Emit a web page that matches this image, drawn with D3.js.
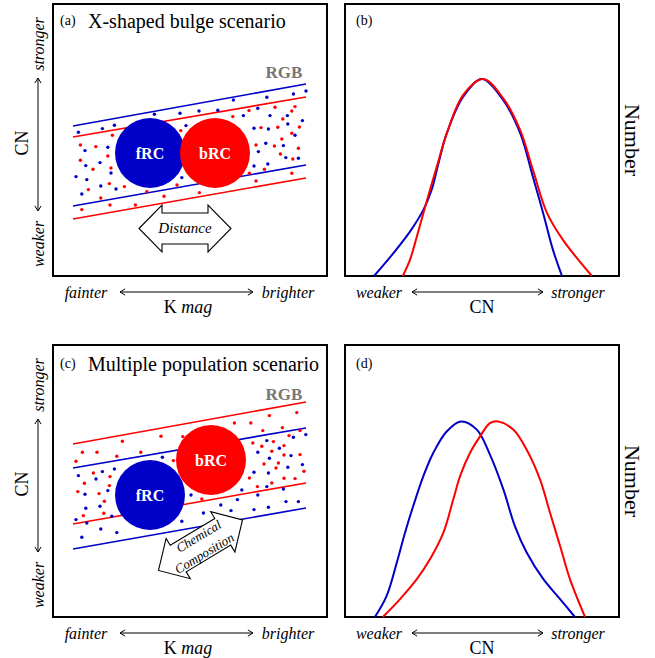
<!DOCTYPE html>
<html>
<head>
<meta charset="utf-8">
<script src="https://cdn.jsdelivr.net/npm/d3@7"></script>
<style>
  body { margin: 0; background: #fff; }
  text { font-family: "Liberation Serif", "Times New Roman", serif; }
</style>
</head>
<body>
<div id="chart"></div>
<script>
(function (d3) {
    'use strict';

    // Panel titles and axis words.
    var panelTags = ['(a)', '(b)', '(c)', '(d)'];
    var scenarioTitles = ['X-shaped bulge scenario', 'Multiple population scenario'];
    var cnWords = ['weaker', 'stronger'];
    var magWords = ['fainter', 'brighter'];

    // RGB band edges, schematic units [K mag, CN], left to right.
    var rgbLinesA = [
        {color: 'blue', pts: [[10, 75], [126.5, 96]]},
        {color: 'red', pts: [[10, 69.5], [126.5, 89.5]]},
        {color: 'blue', pts: [[10, 35], [126.5, 55.5]]},
        {color: 'red', pts: [[10, 28.5], [126.5, 49]]}
    ];
    var rgbLinesC = [
        {color: 'red', pts: [[10, 86.5], [126.5, 107.5]]},
        {color: 'blue', pts: [[10, 74.5], [126.5, 94.5]]},
        {color: 'red', pts: [[10, 46.5], [126.5, 67]]},
        {color: 'blue', pts: [[10, 34], [126.5, 54.5]]}
    ];

    // Red clump blobs [K mag, CN].
    var clumpsA = [
        {name: 'fRC', color: 'blue', k: 48.5, cn: 61.5},
        {name: 'bRC', color: 'red', k: 81, cn: 61.5}
    ];
    var clumpsC = [
        {name: 'fRC', color: 'blue', k: 48.5, cn: 61},
        {name: 'bRC', color: 'red', k: 79, cn: 78.5}
    ];

    // RGB stars [K mag, CN].
    var blueStarsA = [
        [50.7, 80.9], [63.5, 81.4], [12.7, 71.9], [24.7, 73.7], [30.7, 75.4], [16, 62.7],
        [27.4, 64.4], [23.5, 56.7], [16.4, 55.2], [29, 51.5], [11.5, 49.7], [16.9, 48.2],
        [23.9, 45], [31.5, 43.5], [14.4, 41], [64.4, 49.2], [66.5, 75.2], [90.2, 88],
        [106.9, 89.4], [120.2, 91], [126.5, 92.5], [73, 82.5], [82.4, 82.9], [95.2, 80.2],
        [102.4, 83.9], [108.5, 80.2], [117.2, 80.2], [124.7, 77.7], [100.5, 73.9], [107.7, 73.5],
        [117.4, 76], [121, 70.4], [106.4, 66.4], [115.2, 65.2], [102.7, 62.2], [116.4, 59.2],
        [122.7, 58.9], [100.5, 55], [107.4, 56]
    ];
    var redStarsA = [
        [13.7, 65.5], [21.4, 64.7], [29.7, 70.4], [27.4, 60], [13.7, 57.9], [20, 53.4],
        [29, 54], [28.2, 46.2], [17.7, 43.2], [35.7, 44.7], [23.9, 39], [46.9, 42.2],
        [55.5, 39.9], [62, 45.5], [14.4, 33.2], [28.5, 35.5], [41.2, 35.5], [63.9, 72.7],
        [98, 82.7], [111, 84.4], [121, 84.7], [89.9, 79.7], [114.9, 78.5], [119.4, 82.5],
        [104, 74.2], [112.4, 74.4], [123.2, 74.5], [119.4, 71.4], [114.4, 68.5], [101.5, 65.5],
        [110.7, 65], [122.7, 63.9], [113.7, 61], [119.9, 58.5], [105.7, 53.4], [98.2, 51.4],
        [119.4, 51.4], [101.5, 47.5], [73.2, 41.7]
    ];
    var blueStarsC = [
        [54.7, 79.9], [12.7, 70.7], [24.7, 72.7], [30.7, 74], [21.5, 69], [27.4, 63.2],
        [16, 61.4], [23.5, 55.4], [16.4, 54.4], [29.4, 50.4], [11.5, 48.7], [16.9, 47],
        [23.9, 44], [31.9, 42.2], [14.4, 39.9], [64.4, 47.9], [126.4, 91.2], [120.2, 89.9],
        [106.9, 88.2], [113.2, 84.4], [102.4, 82.4], [108.2, 79.4], [119, 80.7], [124.7, 76.2],
        [117.4, 74.9], [100.5, 72.4], [107.7, 72], [115.2, 64], [106.9, 65.2], [94.4, 63.5],
        [102.4, 61], [69, 61], [92.2, 58.7], [83.9, 56], [116.5, 57.7], [122.7, 57.7],
        [107.7, 54.9], [100.5, 53.7], [89, 53.2], [75.2, 52]
    ];
    var redStarsC = [
        [34.7, 87.9], [54, 90.4], [14.7, 82.4], [22, 82.4], [31.9, 80.4], [43.9, 82.4],
        [11.5, 77.9], [60.2, 78.2], [20.2, 72], [28.5, 70.2], [15.7, 66.9], [28.2, 65.7],
        [12.4, 62.7], [23, 61.7], [25.7, 57.9], [25.4, 51.9], [15.2, 50.7], [108.2, 100.7],
        [121.9, 102.2], [90.7, 97], [98.9, 97], [104.9, 93.2], [114.7, 94.7], [118, 90.7],
        [123.5, 93.2], [99.9, 87], [104.4, 85.4], [110.2, 87.7], [115.5, 85.7], [109.4, 82.9],
        [115.5, 81], [123.5, 81.2], [112.7, 77], [105.5, 76.5], [125.5, 72.9], [111.5, 74.5],
        [115.5, 69.4], [121, 69.2], [98.2, 69.5], [109.4, 67], [102.2, 65.2], [64.9, 90.2],
        [74.4, 59]
    ];

    // CN distributions [CN, Number].
    var blueCurveB = [
        [10.6, 0], [17.6, 8.3], [23.7, 16.3], [28.6, 24.3], [31.6, 31.6], [34.1, 41.4],
        [37.2, 52.6], [43.1, 65.8], [50, 72.4], [57.7, 64.7], [63.9, 52.6], [68.6, 36.4],
        [72.3, 23.2], [75.9, 9.6], [79.2, 0]
    ];
    var redCurveB = [
        [21.1, 0], [23.7, 5.9], [26.2, 14.4], [28.6, 23.1], [31, 31.6], [33.5, 40.2],
        [37.2, 52.6], [43.1, 66.5], [50.4, 72.4], [57.7, 65.4], [63.9, 53.7], [68.6, 39],
        [73.7, 23.2], [79.6, 13.2], [90.1, 0]
    ];
    var blueCurveD = [
        [10.9, 0], [15.2, 7.8], [18.9, 20], [21.9, 31], [24.9, 40.8], [28.6, 51.8],
        [32.2, 60.3], [37.1, 68.2], [42.3, 71.9], [48.1, 68.9], [52.9, 59.7], [57.8, 46.9],
        [62, 33.4], [66.3, 23.7], [72.4, 13.9], [78.5, 6.6], [83.9, 0]
    ];
    var redCurveD = [
        [13.8, 0], [20.1, 6.6], [26.2, 13.9], [31, 21.2], [35.9, 31], [39.5, 43.2],
        [42, 51.8], [45.6, 60.3], [49.3, 66.4], [52.9, 71.3], [55.9, 71.9], [61.4, 68.9],
        [66.3, 61.5], [71.2, 50.5], [74.8, 38.4], [78.5, 26.1], [82.1, 13.9], [87.6, 0]
    ];

    // Colours.
    var colors = {blue: '#0000c8', red: '#ff0000'};

    // Panel frames.
    var pw = 274;
    var ph = 272;
    var panelPos = [
        {x: 53, y: 4}, {x: 345, y: 4},
        {x: 53, y: 345}, {x: 345, y: 345}
    ];

    // Scales: schematic CMD panels and histogram panels.
    var xk = d3.scaleLinear().domain([0, 137]).range([0, pw]);
    var ycn = d3.scaleLinear().domain([0, 136]).range([ph, 0]);
    var xh = d3.scaleLinear().domain([0, 100]).range([0, pw]);
    var yh = d3.scaleLinear().domain([0, 100]).range([ph, 0]);

    var svg = d3.select('#chart').append('svg')
        .attr('width', 655)
        .attr('height', 658);

    var panels = panelPos.map(function (p, i) {
        var g = svg.append('g').attr('transform', 'translate(' + p.x + ',' + p.y + ')');
        g.append('rect')
            .attr('width', pw).attr('height', ph)
            .attr('fill', 'none').attr('stroke', '#000').attr('stroke-width', 2);
        g.append('text')
            .attr('x', i % 2 === 0 ? 7 : 11)
            .attr('y', i < 2 ? 21 : 23)
            .attr('font-size', 14)
            .text(panelTags[i]);
        return g;
    });

    // Double arrow with open heads.
    function doubleArrow(g, x1, y1, x2, y2) {
        var ang = Math.atan2(y2 - y1, x2 - x1);
        var h = 6;
        var a = 0.55;
        g.append('line')
            .attr('x1', x1).attr('y1', y1).attr('x2', x2).attr('y2', y2)
            .attr('stroke', '#000').attr('stroke-width', 1);
        [[x1, y1, ang + Math.PI], [x2, y2, ang]].forEach(function (e) {
            var p = d3.path();
            p.moveTo(e[0] - h * Math.cos(e[2] - a), e[1] - h * Math.sin(e[2] - a));
            p.lineTo(e[0], e[1]);
            p.lineTo(e[0] - h * Math.cos(e[2] + a), e[1] - h * Math.sin(e[2] + a));
            g.append('path').attr('d', p.toString())
                .attr('fill', 'none').attr('stroke', '#000').attr('stroke-width', 1);
        });
    }

    // Fat outline arrow (Distance / Chemical Composition).
    function fatArrow(g, cx, cy, angle, half) {
        var hl = 23, hw = 23.5, sw = 15.5;
        var pts = [
            [-half, 0], [-half + hl, -hw], [-half + hl, -sw], [half - hl, -sw], [half - hl, -hw],
            [half, 0], [half - hl, hw], [half - hl, sw], [-half + hl, sw], [-half + hl, hw]
        ];
        var a = g.append('g')
            .attr('transform', 'translate(' + cx + ',' + cy + ') rotate(' + angle + ')');
        a.append('path')
            .attr('d', d3.line()(pts) + 'Z')
            .attr('fill', '#fff').attr('stroke', '#000').attr('stroke-width', 1.1);
        return a;
    }

    function drawCmd(g, idx, lines, clumps, blues, reds) {
        var line = d3.line().x(function (d) { return xk(d[0]); }).y(function (d) { return ycn(d[1]); });

        g.selectAll('.rgb').data(lines).enter().append('path')
            .attr('d', function (d) { return line(d.pts); })
            .attr('stroke', function (d) { return colors[d.color]; })
            .attr('stroke-width', 1.6).attr('fill', 'none');

        g.selectAll('.bs').data(blues).enter().append('circle')
            .attr('cx', function (d) { return xk(d[0]); })
            .attr('cy', function (d) { return ycn(d[1]); })
            .attr('r', 1.7).attr('fill', colors.blue);
        g.selectAll('.rs').data(reds).enter().append('circle')
            .attr('cx', function (d) { return xk(d[0]); })
            .attr('cy', function (d) { return ycn(d[1]); })
            .attr('r', 1.7).attr('fill', colors.red);

        g.selectAll('.clump').data(clumps).enter().append('circle')
            .attr('cx', function (d) { return xk(d.k); })
            .attr('cy', function (d) { return ycn(d.cn); })
            .attr('r', xk(17.5)).attr('fill', function (d) { return colors[d.color]; });
        g.selectAll('.clab').data(clumps).enter().append('text')
            .attr('x', function (d) { return xk(d.k); })
            .attr('y', function (d) { return ycn(d.cn); })
            .attr('dy', '0.35em')
            .attr('text-anchor', 'middle')
            .attr('font-size', 16).attr('font-weight', 'bold').attr('fill', '#fff')
            .text(function (d) { return d.name; });

        // Title
        g.append('text')
            .attr('x', 35).attr('y', idx === 0 ? 24 : 26)
            .attr('font-size', 20)
            .text(scenarioTitles[idx]);

        // RGB label
        g.append('text')
            .attr('x', xk(115.5)).attr('y', idx === 0 ? ycn(99) : ycn(108.5))
            .attr('text-anchor', 'middle')
            .attr('font-size', 17).attr('font-weight', 'bold').attr('fill', '#777')
            .text('RGB');

        // Left CN axis
        g.append('text')
            .attr('transform', 'translate(-14,40) rotate(-90)')
            .attr('text-anchor', 'middle').attr('dy', '0.3em')
            .attr('font-size', 16).attr('font-style', 'italic')
            .text(cnWords[1]);
        g.append('text')
            .attr('transform', 'translate(-14,240) rotate(-90)')
            .attr('text-anchor', 'middle').attr('dy', '0.3em')
            .attr('font-size', 16).attr('font-style', 'italic')
            .text(cnWords[0]);
        doubleArrow(g, -15, 74, -15, 207);
        g.append('text')
            .attr('transform', 'translate(-31,139) rotate(-90)')
            .attr('text-anchor', 'middle').attr('dy', '0.35em')
            .attr('font-size', 18)
            .text('CN');

        // Bottom K mag axis
        g.append('text')
            .attr('x', 33).attr('y', ph + 17).attr('dy', '0.32em')
            .attr('text-anchor', 'middle')
            .attr('font-size', 16).attr('font-style', 'italic')
            .text(magWords[0]);
        g.append('text')
            .attr('x', 235).attr('y', ph + 17).attr('dy', '0.32em')
            .attr('text-anchor', 'middle')
            .attr('font-size', 16).attr('font-style', 'italic')
            .text(magWords[1]);
        doubleArrow(g, 67, ph + 16, 200, ph + 16);
        var km = g.append('text')
            .attr('x', 135).attr('y', ph + 37)
            .attr('text-anchor', 'middle')
            .attr('font-size', 18);
        km.append('tspan').text('K ');
        km.append('tspan').attr('font-style', 'italic').text('mag');
    }

    function drawHist(g, blue, red) {
        var line = d3.line()
            .x(function (d) { return xh(d[0]); })
            .y(function (d) { return yh(d[1]); })
            .curve(d3.curveCatmullRom.alpha(0.5));

        g.append('path').attr('d', line(blue))
            .attr('stroke', colors.blue).attr('stroke-width', 2).attr('fill', 'none');
        g.append('path').attr('d', line(red))
            .attr('stroke', colors.red).attr('stroke-width', 2).attr('fill', 'none');

        g.append('text')
            .attr('x', 34).attr('y', ph + 17).attr('dy', '0.32em')
            .attr('text-anchor', 'middle')
            .attr('font-size', 16).attr('font-style', 'italic')
            .text(cnWords[0]);
        g.append('text')
            .attr('x', 233).attr('y', ph + 17).attr('dy', '0.32em')
            .attr('text-anchor', 'middle')
            .attr('font-size', 16).attr('font-style', 'italic')
            .text(cnWords[1]);
        doubleArrow(g, 67, ph + 16, 198, ph + 16);
        g.append('text')
            .attr('x', 137).attr('y', ph + 37)
            .attr('text-anchor', 'middle')
            .attr('font-size', 18)
            .text('CN');

        g.append('text')
            .attr('transform', 'translate(' + (pw + 14) + ',' + (ph / 2) + ') rotate(90)')
            .attr('text-anchor', 'middle').attr('dy', '0.35em')
            .attr('font-size', 22)
            .text('Number');
    }

    drawCmd(panels[0], 0, rgbLinesA, clumpsA, blueStarsA, redStarsA);
    drawCmd(panels[2], 1, rgbLinesC, clumpsC, blueStarsC, redStarsC);
    drawHist(panels[1], blueCurveB, redCurveB);
    drawHist(panels[3], blueCurveD, redCurveD);

    // Distance arrow in (a)
    var da = fatArrow(panels[0], xk(66), ycn(23.75), 0, 46);
    da.append('text')
        .attr('text-anchor', 'middle').attr('dy', '0.33em')
        .attr('font-size', 15).attr('font-style', 'italic')
        .text('Distance');

    // Chemical composition arrow in (c)
    var ca = fatArrow(panels[2], xk(73.75), ycn(35.9), -31, 49);
    ca.append('text')
        .attr('x', 3).attr('y', -8.5).attr('dy', '0.33em')
        .attr('text-anchor', 'middle')
        .attr('font-size', 13).attr('font-style', 'italic')
        .text('Chemical');
    ca.append('text')
        .attr('x', -1).attr('y', 9).attr('dy', '0.33em')
        .attr('text-anchor', 'middle')
        .attr('font-size', 13).attr('font-style', 'italic')
        .text('Composition');

})(d3);
</script>
</body>
</html>
